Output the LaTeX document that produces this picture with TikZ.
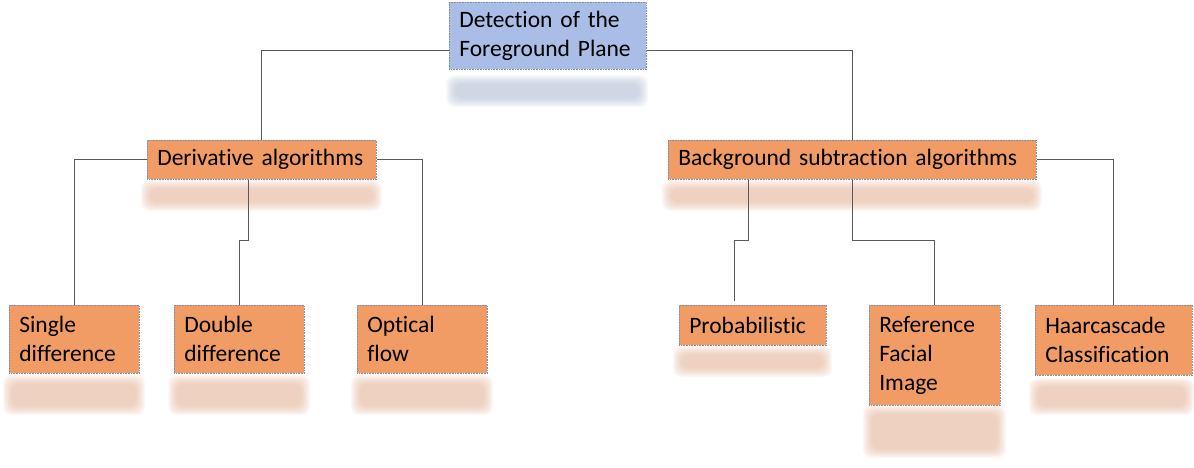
\documentclass[tikz,border=0pt]{standalone}
\usepackage{fontspec}
\setmainfont{Carlito}[Ligatures=NoCommon]
\usetikzlibrary{calc}
\definecolor{boxorange}{HTML}{F09C64}
\definecolor{boxblue}{HTML}{A9BDE6}
\definecolor{boxline}{HTML}{7F8FB0}
\definecolor{conn}{HTML}{595959}
\definecolor{blurorange}{HTML}{E3B295}
\definecolor{blurblue}{HTML}{B0BAD2}
\newcommand\boxfont{\fontsize{23.5}{29}\selectfont}
\newcommand\blurbar[5]{\foreach \k in {0,1,...,9}{\fill[#5,opacity=0.085,rounded corners=8pt] ($(#1,#2)+(\k,\k)$) rectangle ($(#3,#4)+(-\k,-\k)$);}}
\tikzset{
  box/.style={draw=boxline, densely dotted, line width=0.6pt, fill=boxorange, anchor=north west,
    inner xsep=10pt, inner ysep=0pt, align=left, font=\boxfont},
  link/.style={draw=conn, line width=0.9pt}
}
\begin{document}
\begin{tikzpicture}[x=1pt,y=-1pt]
\useasboundingbox (0,0) rectangle (1194,467);
% blurred reflections
\blurbar{446}{75}{648}{107}{blurblue}
\blurbar{141}{180}{382}{211}{blurorange}
\blurbar{662}{180}{1042}{211}{blurorange}
\blurbar{3}{375}{145}{415}{blurorange}
\blurbar{168}{375}{310}{415}{blurorange}
\blurbar{351}{375}{493}{415}{blurorange}
\blurbar{673}{346}{832}{377}{blurorange}
\blurbar{863}{405}{1006}{458}{blurorange}
\blurbar{1029}{378}{1194}{415}{blurorange}
% boxes
\node[box, fill=boxblue, text width=177pt, minimum height=67pt] (top) at (449,2) {Detection~of~the\\Foreground~Plane};
\node[box, text width=209pt, minimum height=39pt] (deriv) at (147,140) {Derivative~algorithms};
\node[box, text width=348pt, minimum height=39pt] (bg) at (668,140) {Background~subtraction~algorithms};
\node[box, text width=110pt, minimum height=68pt] (single) at (9,305) {Single\\difference};
\node[box, text width=110pt, minimum height=68pt] (double) at (174,305) {Double\\difference};
\node[box, text width=110pt, minimum height=68pt] (optical) at (357,305) {Optical\\flow};
\node[box, text width=127pt, minimum height=40pt] (prob) at (679,305) {Probabilistic};
\node[box, text width=111pt, minimum height=100pt] (ref) at (869,305) {Reference\\Facial\\Image};
\node[box, text width=137pt, minimum height=70pt] (haar) at (1035,305) {Haarcascade\\Classification};
% connectors
\draw[link] ([yshift=-14.5pt]top.west) -| (deriv.north);
\draw[link] ([yshift=-14.5pt]top.east) -| (bg.north);
\draw[link] (deriv.west) -| (single.north);
\draw[link] (deriv.east) -| (optical.north);
\draw[link] ([xshift=-13.5pt]deriv.south) -- ++(0,61) -| (double.north);
\draw[link] ([xshift=-104pt]bg.south) -- ++(0,61) -| ([xshift=-18.5pt,yshift=4pt]prob.north);
\draw[link] (bg.south) -- ++(0,61) -| (ref.north);
\draw[link] (bg.east) -| (haar.north);
\end{tikzpicture}
\end{document}
